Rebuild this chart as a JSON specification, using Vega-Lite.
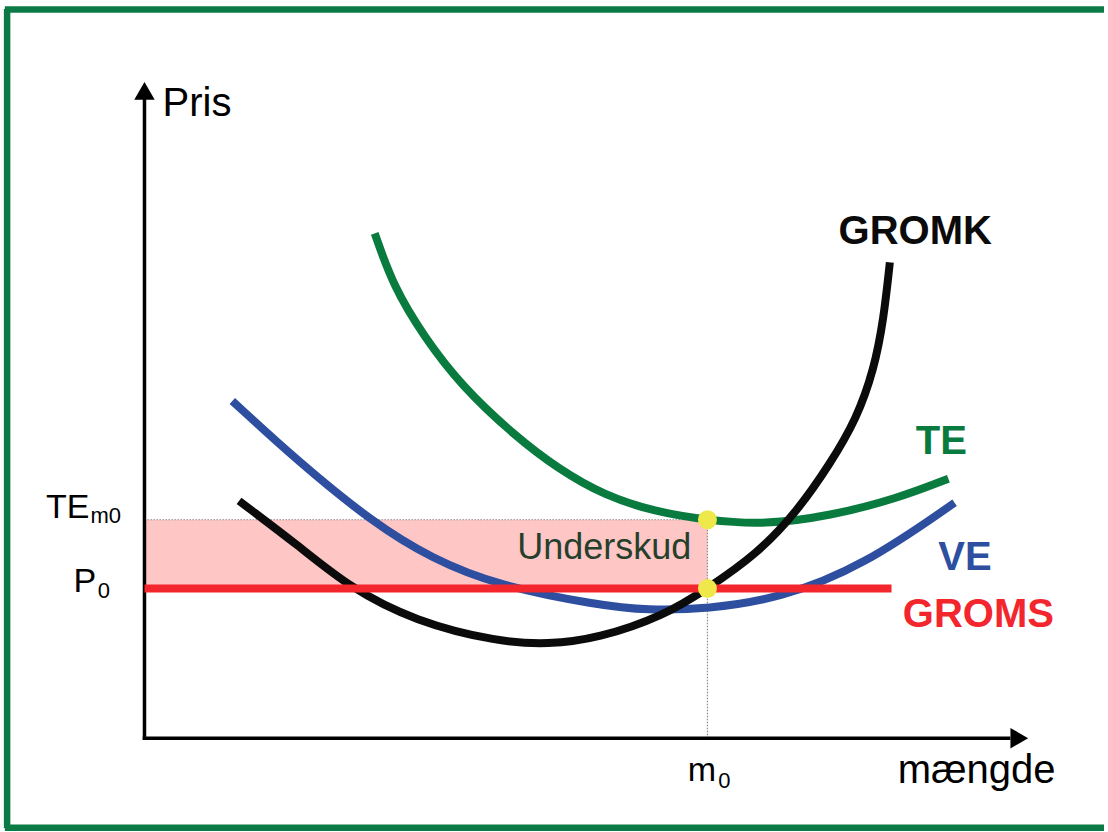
{
  "$schema": "https://vega.github.io/schema/vega-lite/v6.json",
  "width": 1108,
  "height": 832,
  "autosize": {"type": "fit", "contains": "padding"},
  "padding": 0,
  "background": "white",
  "config": {"view": {"stroke": null}, "text": {"font": "Liberation Sans"}},
  "datasets": {
    "curves": [
      {"series": "TE", "x": 40.9, "y": 168.7},
      {"series": "TE", "x": 44.2, "y": 151.0},
      {"series": "TE", "x": 49.6, "y": 134.3},
      {"series": "TE", "x": 56.3, "y": 117.7},
      {"series": "TE", "x": 65.8, "y": 101.0},
      {"series": "TE", "x": 73.5, "y": 90.0},
      {"series": "TE", "x": 81.8, "y": 81.0},
      {"series": "TE", "x": 90.6, "y": 75.7},
      {"series": "TE", "x": 100, "y": 72.8},
      {"series": "TE", "x": 110.1, "y": 71.3},
      {"series": "TE", "x": 121.8, "y": 74.3},
      {"series": "TE", "x": 133.6, "y": 80.0},
      {"series": "TE", "x": 142.8, "y": 86.7},
      {"series": "VE", "x": 15.6, "y": 112.7},
      {"series": "VE", "x": 27.4, "y": 92.3},
      {"series": "VE", "x": 40.4, "y": 72.3},
      {"series": "VE", "x": 51.0, "y": 60.0},
      {"series": "VE", "x": 62.8, "y": 51.0},
      {"series": "VE", "x": 80.5, "y": 44.5},
      {"series": "VE", "x": 89.4, "y": 42.7},
      {"series": "VE", "x": 100, "y": 43.2},
      {"series": "VE", "x": 112.9, "y": 46.7},
      {"series": "VE", "x": 127.8, "y": 57.7},
      {"series": "VE", "x": 143.9, "y": 78.7},
      {"series": "GROMK", "x": 16.8, "y": 79.3},
      {"series": "GROMK", "x": 27.4, "y": 64.3},
      {"series": "GROMK", "x": 36.3, "y": 50.5},
      {"series": "GROMK", "x": 48.1, "y": 39.0},
      {"series": "GROMK", "x": 62.8, "y": 32.2},
      {"series": "GROMK", "x": 71.7, "y": 31.3},
      {"series": "GROMK", "x": 80.5, "y": 33.3},
      {"series": "GROMK", "x": 92.4, "y": 41.0},
      {"series": "GROMK", "x": 100, "y": 50.0},
      {"series": "GROMK", "x": 108.8, "y": 61.5},
      {"series": "GROMK", "x": 115.9, "y": 75.7},
      {"series": "GROMK", "x": 121.8, "y": 91.7},
      {"series": "GROMK", "x": 126.5, "y": 106.7},
      {"series": "GROMK", "x": 129.6, "y": 123.3},
      {"series": "GROMK", "x": 131.3, "y": 140.0},
      {"series": "GROMK", "x": 132.4, "y": 159.0},
      {"series": "GROMS", "x": 0, "y": 50},
      {"series": "GROMS", "x": 132.7, "y": 50}
    ],
    "frame": [
      {"x": -24.4, "y": -30.0, "x2": -24.4, "y2": 243.7},
      {"x": -24.8, "y": 243.5, "x2": 170.44, "y2": 243.5},
      {"x": -24.8, "y": -29.9, "x2": 170.44, "y2": -29.9}
    ],
    "axes": [
      {"x": 0, "y": 0, "x2": 0, "y2": 214},
      {"x": 0, "y": 0, "x2": 153.5, "y2": 0}
    ],
    "arrows": [
      {"dir": "up", "x": 0, "y": 216.3},
      {"dir": "right", "x": 155.4, "y": 0}
    ],
    "guides": [
      {"x": 0, "y": 73, "x2": 100, "y2": 73},
      {"x": 100, "y": 0, "x2": 100, "y2": 73}
    ],
    "region": [{"x": 0, "y": 50, "x2": 100, "y2": 73}],
    "equilibria": [{"x": 100, "y": 73}, {"x": 100, "y": 50}],
    "axisTitles": [
      {"text": "Pris", "x": 3.2, "y": 208},
      {"text": "mængde", "x": 133.8, "y": -15}
    ],
    "tickNames": [
      {"text": "m", "x": 96.5, "y": -14.3},
      {"text": "P", "x": -12.6, "y": 49},
      {"text": "TE", "x": -17.5, "y": 73.7}
    ],
    "tickSubs": [
      {"text": "0", "x": 101.9, "y": -16.7},
      {"text": "0", "x": -8.3, "y": 47},
      {"text": "m0", "x": -9.6, "y": 72}
    ],
    "curveLabels": [
      {"series": "GROMK", "x": 123.3, "y": 165},
      {"series": "TE", "x": 137.0, "y": 95},
      {"series": "VE", "x": 141.0, "y": 56.3},
      {"series": "GROMS", "x": 134.7, "y": 37.3}
    ],
    "areaLabel": [{"text": "Underskud", "x": 66.2, "y": 60}]
  },
  "encoding": {
    "x": {"field": "x", "type": "quantitative", "axis": null, "scale": {"domain": [-25.664, 170.442], "nice": false, "zero": false}},
    "y": {"field": "y", "type": "quantitative", "axis": null, "scale": {"domain": [-30.667, 246.667], "nice": false, "zero": false}}
  },
  "layer": [
    {
      "data": {"name": "frame"},
      "mark": {"type": "rule", "color": "#0B7A45", "strokeWidth": 6.5},
      "encoding": {"x2": {"field": "x2"}, "y2": {"field": "y2"}}
    },
    {
      "data": {"name": "region"},
      "mark": {"type": "rect", "color": "#FFC6C6"},
      "encoding": {"x2": {"field": "x2"}, "y2": {"field": "y2"}}
    },
    {
      "data": {"name": "guides"},
      "mark": {"type": "rule", "color": "#8A8A8A", "strokeWidth": 1.2, "strokeDash": [1.5, 1.5]},
      "encoding": {"x2": {"field": "x2"}, "y2": {"field": "y2"}}
    },
    {
      "data": {"name": "axes"},
      "mark": {"type": "rule", "color": "#000000", "strokeWidth": 3.5, "strokeCap": "square"},
      "encoding": {"x2": {"field": "x2"}, "y2": {"field": "y2"}}
    },
    {
      "data": {"name": "arrows"},
      "transform": [{"filter": "datum.dir === 'up'"}],
      "mark": {"type": "point", "shape": "triangle-up", "filled": true, "color": "#000000", "size": 420, "opacity": 1}
    },
    {
      "data": {"name": "arrows"},
      "transform": [{"filter": "datum.dir === 'right'"}],
      "mark": {"type": "point", "shape": "triangle-right", "filled": true, "color": "#000000", "size": 420, "opacity": 1}
    },
    {
      "data": {"name": "curves"},
      "mark": {"type": "line", "strokeWidth": 8, "strokeCap": "butt", "interpolate": "basis"},
      "encoding": {
        "color": {"field": "series", "type": "nominal", "legend": null,
          "scale": {"domain": ["TE", "VE", "GROMK", "GROMS"], "range": ["#0A7B3E", "#2E4FA0", "#0B0B0B", "#F2262C"]}},
        "order": {"field": "x"}
      }
    },
    {
      "data": {"name": "equilibria"},
      "mark": {"type": "point", "shape": "circle", "filled": true, "color": "#EFE84A", "size": 360, "opacity": 1}
    },
    {
      "data": {"name": "axisTitles"},
      "mark": {"type": "text", "align": "left", "baseline": "alphabetic", "fontSize": 40, "color": "#000000"},
      "encoding": {"text": {"field": "text"}}
    },
    {
      "data": {"name": "tickNames"},
      "mark": {"type": "text", "align": "left", "baseline": "alphabetic", "fontSize": 34, "color": "#000000"},
      "encoding": {"text": {"field": "text"}}
    },
    {
      "data": {"name": "tickSubs"},
      "mark": {"type": "text", "align": "left", "baseline": "alphabetic", "fontSize": 22, "color": "#000000"},
      "encoding": {"text": {"field": "text"}}
    },
    {
      "data": {"name": "curveLabels"},
      "mark": {"type": "text", "align": "left", "baseline": "alphabetic", "fontSize": 40, "fontWeight": "bold"},
      "encoding": {
        "text": {"field": "series"},
        "color": {"field": "series", "type": "nominal", "legend": null}
      }
    },
    {
      "data": {"name": "areaLabel"},
      "mark": {"type": "text", "align": "left", "baseline": "alphabetic", "fontSize": 36, "color": "#263F2B"},
      "encoding": {"text": {"field": "text"}}
    }
  ]
}
